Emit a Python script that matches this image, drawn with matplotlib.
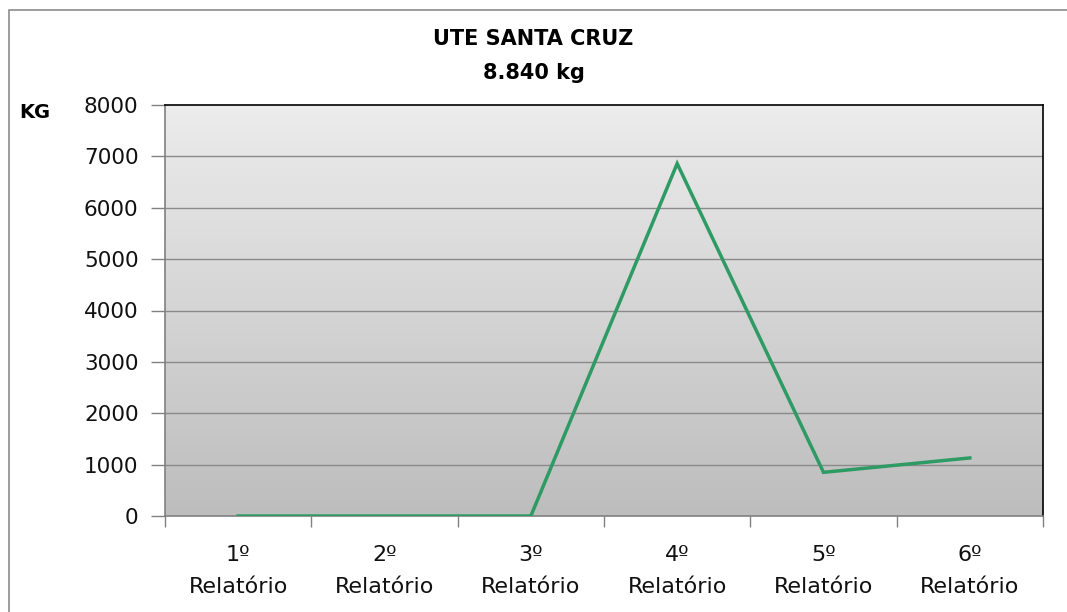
import numpy as np
import matplotlib
matplotlib.use("Agg")
import matplotlib.pyplot as plt
from matplotlib.patches import Rectangle

# data
categories = ["1º\nRelatório", "2º\nRelatório", "3º\nRelatório",
              "4º\nRelatório", "5º\nRelatório", "6º\nRelatório"]
values_kg = [0, 0, 0, 6860, 850, 1130]
y_ticks = [0, 1000, 2000, 3000, 4000, 5000, 6000, 7000, 8000]

plt.rcParams['font.family'] = ['DejaVu Sans']

fig = plt.figure(figsize=(10.67, 6.12), dpi=100)
ax = fig.add_axes([165 / 1067, 1 - 516 / 612, 878 / 1067, 411 / 612])

# outer chart border
fig.patches.append(Rectangle((9 / 1067, -0.01), 1.1, 1 - 10 / 612 + 0.01,
                             transform=fig.transFigure, fill=False,
                             edgecolor="#8c8c8c", linewidth=1.2))

x = np.arange(len(categories))
ax.set_xlim(-0.5, len(categories) - 0.5)
ax.set_ylim(0, 8000)

# grey vertical gradient background
grad = np.linspace(0, 1, 256).reshape(-1, 1)
ax.imshow(grad, extent=[-0.5, len(categories) - 0.5, 0, 8000], aspect="auto",
          cmap=matplotlib.colors.LinearSegmentedColormap.from_list(
              "bg", ["#bdbdbd", "#ececec"]),
          origin="lower", zorder=0)

for t in y_ticks[1:-1]:
    ax.axhline(t, color="#8a8a8a", linewidth=1.0, zorder=1)

ax.plot(x, values_kg, color="#2e9a64", linewidth=2.5, zorder=3,
        solid_joinstyle="miter")

ax.set_yticks(y_ticks)
ax.set_yticklabels([str(t) for t in y_ticks])
ax.set_xticks(x)
ax.set_xticklabels(categories, linespacing=1.72)
ax.set_xticks(np.arange(-0.5, len(categories)), minor=True)
ax.tick_params(axis="x", which="major", length=0, pad=21, labelsize=16,
               colors="#111111")
ax.tick_params(axis="x", which="minor", length=8, color="#808080", width=1)
ax.tick_params(axis="y", length=10, color="#808080", width=1, pad=9,
               labelsize=15.5, colors="#111111")

ax.spines["left"].set_color("#808080")
ax.spines["bottom"].set_color("#808080")
ax.spines["top"].set_color("#000000")
ax.spines["right"].set_color("#000000")
for s in ax.spines.values():
    s.set_linewidth(1.2)

fig.text(0.5, 1 - 39 / 612, "UTE SANTA CRUZ", ha="center", va="center",
         fontsize=15, fontweight="bold")
fig.text(0.5, 1 - 73 / 612, "8.840 kg", ha="center", va="center",
         fontsize=15, fontweight="bold")
fig.text(35 / 1067, 1 - 112 / 612, "KG", ha="center", va="center",
         fontsize=14, fontweight="bold")

fig.savefig("out.png", dpi=100)
